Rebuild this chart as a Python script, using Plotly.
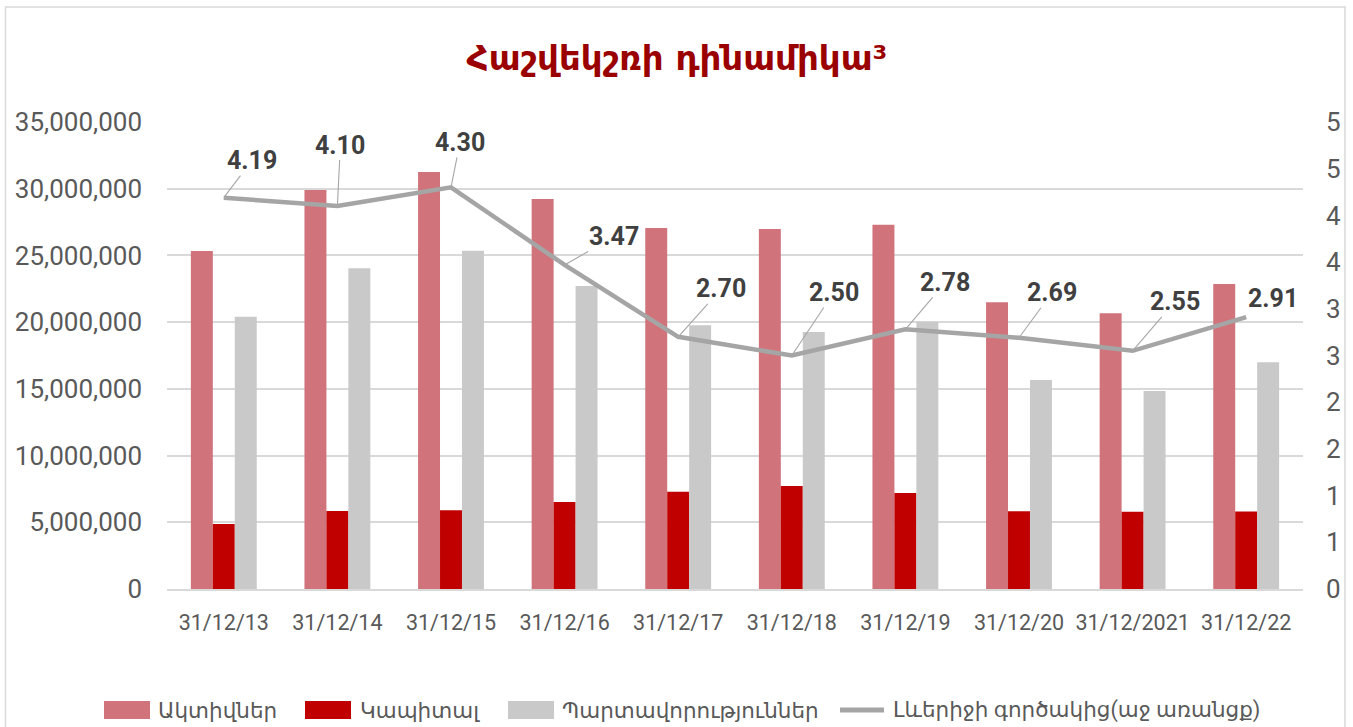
import plotly.graph_objects as go

# ---- data ----
categories = ["31/12/13", "31/12/14", "31/12/15", "31/12/16", "31/12/17",
              "31/12/18", "31/12/19", "31/12/20", "31/12/2021", "31/12/22"]
assets = [25330000, 29900000, 31250000, 29230000, 27060000,
          26980000, 27300000, 21500000, 20660000, 22860000]
capital = [4870000, 5850000, 5900000, 6520000, 7290000,
           7720000, 7190000, 5820000, 5790000, 5800000]
liabilities = [20410000, 24030000, 25360000, 22710000, 19760000,
               19260000, 20030000, 15660000, 14840000, 16990000]
leverage = [4.19, 4.10, 4.30, 3.47, 2.70, 2.50, 2.78, 2.69, 2.55, 2.91]

series_names = ["Ակտիվներ", "Կապիտալ", "Պարտավորություններ",
                "Լևերիջի գործակից(աջ առանցք)"]
title_text = "Հաշվեկշռի դինամիկա³"

left_tickvals = [0, 5000000, 10000000, 15000000, 20000000, 25000000, 30000000, 35000000]
right_tickvals = [0, 0.5, 1, 1.5, 2, 2.5, 3, 3.5, 4, 4.5, 5]
right_ticktext = ["0", "1", "1", "2", "2", "3", "3", "4", "4", "5", "5"]

# ---- styling ----
W, H = 1353, 727
ML, MR, MT, MB = 167, 50, 122, 138
PW, PH = W - ML - MR, H - MT - MB

C_ASSET = "#D0737B"
C_CAP = "#C00000"
C_LIAB = "#C9C9C9"
C_LINE = "#A5A5A5"
GRID = "#D9D9D9"
TXT = "#595959"
FONT = "Roboto, DejaVu Sans"

# label offsets (pixels, text centre relative to point)
label_dx = [28, 3, 9, 49, 43, 42, 40, 33, 42, 27]
label_dy = [-37, -61, -45, -28, -48, -63, -47, -45, -49, -19]
show_leader = [True] * 9 + [False]


def px_x(p):
    return (p - ML) / PW


def px_y(p):
    return (H - MB - p) / PH


fig = go.Figure()
fig.add_trace(go.Bar(x=categories, y=assets, name=series_names[0],
                     marker=dict(color=C_ASSET, line=dict(width=0))))
fig.add_trace(go.Bar(x=categories, y=capital, name=series_names[1],
                     marker=dict(color=C_CAP, line=dict(width=0))))
fig.add_trace(go.Bar(x=categories, y=liabilities, name=series_names[2],
                     marker=dict(color=C_LIAB, line=dict(width=0))))
fig.add_trace(go.Scatter(x=categories, y=leverage, name=series_names[3],
                         yaxis="y2", mode="lines",
                         line=dict(color=C_LINE, width=4.5)))

for i, (c, v) in enumerate(zip(categories, leverage)):
    fig.add_annotation(
        x=c, y=v, xref="x", yref="y2",
        text="%.2f" % v,
        showarrow=True, arrowhead=0, arrowwidth=1.1,
        arrowcolor="#A6A6A6" if show_leader[i] else "rgba(0,0,0,0)",
        ax=label_dx[i], ay=label_dy[i], standoff=0, borderpad=0,
        font=dict(family=FONT, size=25, color="#404040", weight="bold"),
    )

# ---- manual legend (swatch shapes + text) ----
leg_y = 710
leg_swatch_x = [104, 305, 508, 838]
leg_text_x = [156, 358, 560, 891]
leg_colors = [C_ASSET, C_CAP, C_LIAB]
for k in range(3):
    fig.add_shape(type="rect", xref="paper", yref="paper",
                  x0=px_x(leg_swatch_x[k]), x1=px_x(leg_swatch_x[k] + 46),
                  y0=px_y(leg_y + 9), y1=px_y(leg_y - 9),
                  line=dict(width=0), fillcolor=leg_colors[k])
fig.add_shape(type="line", xref="paper", yref="paper",
              x0=px_x(leg_swatch_x[3] + 2), x1=px_x(leg_swatch_x[3] + 46),
              y0=px_y(leg_y), y1=px_y(leg_y),
              line=dict(color=C_LINE, width=5))
for k in range(4):
    fig.add_annotation(x=px_x(leg_text_x[k]), y=px_y(leg_y), xref="paper", yref="paper",
                       text=series_names[k], showarrow=False, xanchor="left", yanchor="middle",
                       font=dict(family=FONT, size=21.5, color=TXT))

# outer frame
fig.add_shape(type="rect", xref="paper", yref="paper",
              x0=px_x(5.5), x1=px_x(1345), y0=px_y(745), y1=px_y(7),
              line=dict(color=GRID, width=1.5), fillcolor="rgba(0,0,0,0)", layer="below")

fig.update_layout(
    width=W, height=H,
    margin=dict(l=ML, r=MR, t=MT, b=MB, autoexpand=False),
    paper_bgcolor="white", plot_bgcolor="white",
    barmode="group", bargap=0.42, bargroupgap=0,
    title=dict(text=title_text, x=677 / W, xref="container", xanchor="center",
               y=1 - 58 / H, yanchor="middle", yref="container",
               font=dict(family="DejaVu Sans", size=34, color="#9B0000", weight="bold")),
    font=dict(family=FONT, color=TXT),
    showlegend=False,
    xaxis=dict(showgrid=False, showline=True, linecolor=GRID, linewidth=1.5,
               ticks="", tickfont=dict(size=21.5, color=TXT), ticklabelstandoff=13),
    yaxis=dict(range=[0, 35000000], tickvals=left_tickvals, tickformat=",",
               showgrid=True, gridcolor=GRID, gridwidth=1.5, zeroline=False,
               showline=False, ticks="", tickfont=dict(size=26, color=TXT),
               ticklabelstandoff=24),
    yaxis2=dict(range=[0, 5], tickvals=right_tickvals, ticktext=right_ticktext,
                overlaying="y", side="right", showgrid=False, zeroline=False,
                showline=False, ticks="", tickfont=dict(size=26, color=TXT),
                ticklabelstandoff=22),
)

fig.write_html("out.html")
